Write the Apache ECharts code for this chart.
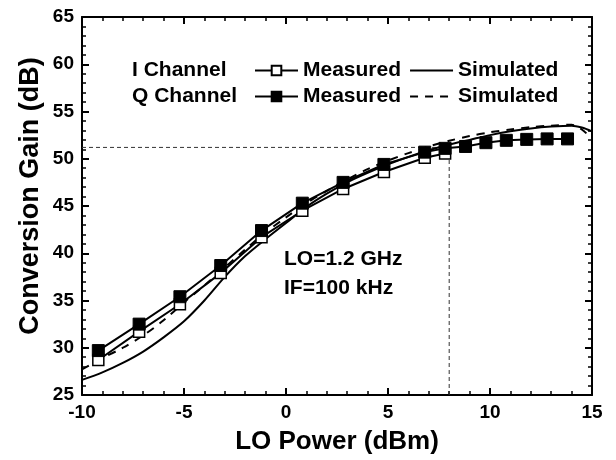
<!DOCTYPE html>
<html>
<head>
<meta charset="utf-8">
<script src="https://cdn.jsdelivr.net/npm/echarts@6/dist/echarts.min.js"></script>
<style>
  html, body { margin: 0; padding: 0; background: #fff; }
  #chart { width: 616px; height: 460px; }
</style>
</head>
<body>
<div id="chart"></div>
<script>
// LO power sweep points of the measurements (dBm)
const measX = [-9.2, -7.2, -5.2, -3.2, -1.2, 0.8, 2.8, 4.8, 6.8, 7.8, 8.8, 9.8, 10.8, 11.8, 12.8, 13.8];
// Measured conversion gain (dB)
const iMeasured = [28.7, 31.7, 34.6, 37.9, 41.7, 44.5, 46.8, 48.6, 50.1, 50.55];
const qMeasured = [29.7, 32.5, 35.4, 38.7, 42.4, 45.3, 47.5, 49.4, 50.7, 51.1, 51.3, 51.7, 51.95, 52.05, 52.1, 52.1];
// Simulation sweep (dBm) and simulated conversion gain (dB)
const simX = [-10, -9, -8, -7, -6, -5, -4, -3, -2, -1, 0, 1, 2, 3, 4, 5, 6, 7, 8, 9, 10, 11, 12, 13, 14, 14.5, 15];
const iSimulated = [26.6, 27.4, 28.4, 29.6, 31.1, 32.8, 35.0, 37.5, 39.7, 41.5, 43.2, 44.9, 46.3, 47.5, 48.5, 49.4, 50.2, 50.9, 51.5, 52.0, 52.5, 52.9, 53.2, 53.4, 53.5, 53.3, 52.9];
const qSimulated = [27.7, 28.9, 30.0, 31.3, 32.9, 34.8, 36.6, 38.5, 40.4, 42.2, 43.8, 45.3, 46.6, 47.8, 48.9, 49.8, 50.6, 51.3, 51.9, 52.4, 52.8, 53.1, 53.35, 53.5, 53.6, 53.1, 52.1];
// Operating-point guide lines
const guideX = 8;
const guideY = 51.2;
// Axis ranges and tick step
const xRange = [-10, 15];
const yRange = [25, 65];
const tickStep = 5;

const FONT = 'Liberation Sans, Arial, sans-serif';
const pairs = (xs, ys) => ys.map((y, i) => [xs[i], y]);

const chart = echarts.init(document.getElementById('chart'), null, { renderer: 'canvas' });

const axisLine = { show: true, onZero: false, lineStyle: { color: '#000', width: 2 } };
const axisTick = { show: true, inside: true, length: 7, lineStyle: { color: '#000', width: 2 } };
const minorTick = { show: true, splitNumber: 5, length: 4, lineStyle: { color: '#000', width: 1.5 } };
const tickLabel = { color: '#000', fontFamily: FONT, fontWeight: 'bold', fontSize: 19 };
const legendText = { color: '#000', fontFamily: FONT, fontWeight: 'bold', fontSize: 21 };

const nameOf = n => n.split(' ')[1];
// simulated entries show only their line style in the key
const lineOnly = name => ({ name, itemStyle: { opacity: 0 } });

chart.setOption({
  animation: false,
  backgroundColor: '#fff',
  grid: { left: 82, right: 24, top: 17, bottom: 63 },
  xAxis: [
    {
      type: 'value', min: xRange[0], max: xRange[1], interval: tickStep,
      axisLine, axisTick, minorTick,
      axisLabel: Object.assign({ margin: 8 }, tickLabel),
      splitLine: { show: false },
      name: 'LO Power (dBm)', nameLocation: 'middle', nameGap: 34,
      nameTextStyle: { color: '#000', fontFamily: FONT, fontWeight: 'bold', fontSize: 26 }
    },
    {
      type: 'value', position: 'top', min: xRange[0], max: xRange[1], interval: tickStep,
      axisLine, axisTick, minorTick,
      axisLabel: { show: false }, splitLine: { show: false }
    }
  ],
  yAxis: [
    {
      type: 'value', min: yRange[0], max: yRange[1], interval: tickStep,
      axisLine, axisTick, minorTick,
      axisLabel: Object.assign({ margin: 8 }, tickLabel),
      splitLine: { show: false }
    },
    {
      type: 'value', position: 'right', min: yRange[0], max: yRange[1], interval: tickStep,
      axisLine, axisTick, minorTick,
      axisLabel: { show: false }, splitLine: { show: false }
    }
  ],
  legend: [
    {
      left: 254, top: 60, padding: 0, itemWidth: 43, itemHeight: 12, itemGap: 8,
      data: ['I Measured', lineOnly('I Simulated')], formatter: nameOf,
      textStyle: legendText
    },
    {
      left: 254, top: 86, padding: 0, itemWidth: 43, itemHeight: 12, itemGap: 8,
      data: ['Q Measured', lineOnly('Q Simulated')], formatter: nameOf,
      textStyle: legendText
    }
  ],
  graphic: [
    {
      type: 'text', x: 31, y: 196, rotation: Math.PI / 2,
      style: { text: 'Conversion Gain (dB)', fill: '#000', font: 'bold 27px ' + FONT, align: 'center', verticalAlign: 'middle' }
    },
    { type: 'text', left: 132, top: 60, style: { text: 'I Channel', fill: '#000', font: 'bold 21px ' + FONT } },
    { type: 'text', left: 132, top: 86, style: { text: 'Q Channel', fill: '#000', font: 'bold 21px ' + FONT } },
    { type: 'text', left: 284, top: 249, style: { text: 'LO=1.2 GHz', fill: '#000', font: 'bold 21px ' + FONT } },
    { type: 'text', left: 284, top: 278, style: { text: 'IF=100 kHz', fill: '#000', font: 'bold 21px ' + FONT } }
  ],
  series: [
    {
      name: 'guide-h', type: 'line', silent: true, symbol: 'none',
      data: [[xRange[0], guideY], [guideX, guideY]],
      lineStyle: { color: '#333', width: 1, type: [4, 3] }, z: 1
    },
    {
      name: 'guide-v', type: 'line', silent: true, symbol: 'none',
      data: [[guideX, yRange[0]], [guideX, guideY]],
      lineStyle: { color: '#333', width: 1, type: [4, 3] }, z: 1
    },
    {
      name: 'I Simulated', type: 'line', symbol: 'none', smooth: 0.3,
      data: pairs(simX, iSimulated),
      lineStyle: { color: '#000', width: 2 }, itemStyle: { color: '#000' }, z: 2
    },
    {
      name: 'Q Simulated', type: 'line', symbol: 'none', smooth: 0.3,
      data: pairs(simX, qSimulated),
      lineStyle: { color: '#000', width: 2, type: [8, 7] }, itemStyle: { color: '#000' }, z: 2
    },
    {
      name: 'I Measured', type: 'line', symbol: 'rect', symbolSize: 11,
      data: pairs(measX, iMeasured),
      lineStyle: { color: '#000', width: 2 },
      itemStyle: { color: '#fff', borderColor: '#000', borderWidth: 1.5 }, z: 3
    },
    {
      name: 'Q Measured', type: 'line', symbol: 'rect', symbolSize: 12,
      data: pairs(measX, qMeasured),
      lineStyle: { color: '#000', width: 2 },
      itemStyle: { color: '#000', borderColor: '#000', borderWidth: 1 }, z: 4
    }
  ]
});
</script>
</body>
</html>
